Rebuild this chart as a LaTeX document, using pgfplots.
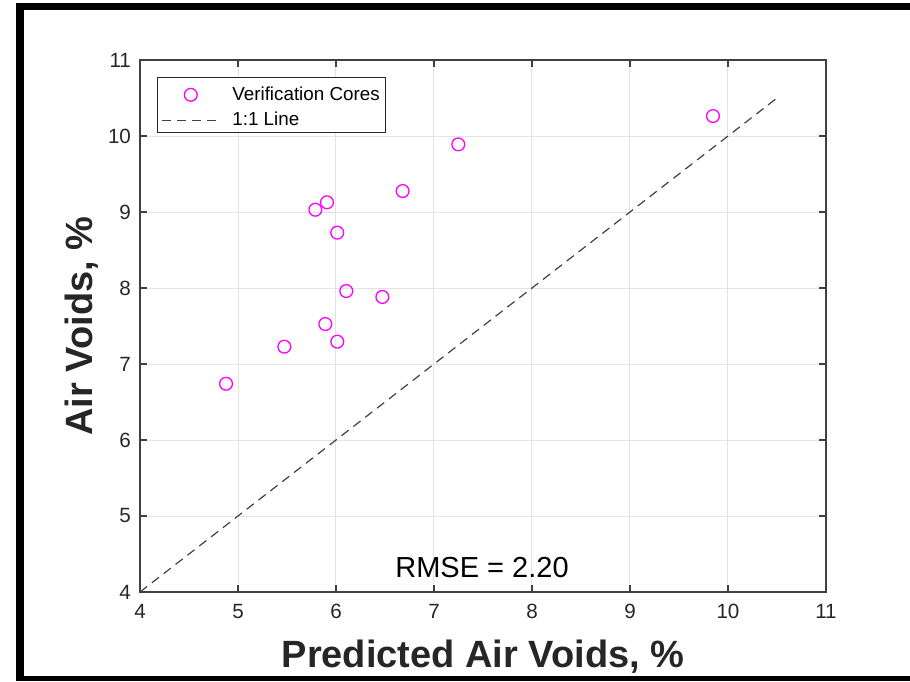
\documentclass[border=0pt]{standalone}
\usepackage{fontspec}
\setmainfont{Liberation Sans}
\usepackage{pgfplots}
\pgfplotsset{compat=1.18}
\definecolor{axisgray}{HTML}{404040}
\definecolor{gridgray}{HTML}{E3E3E3}
\definecolor{txtgray}{HTML}{262626}
\definecolor{magentamk}{HTML}{FF00FF}

\begin{document}
\begin{tikzpicture}
  % page frame (1 px = 0.5 pt)
  \useasboundingbox (0,0) rectangle (455pt,340.5pt);
  \fill[black] (8pt,335.5pt) rectangle (455pt,339pt);
  \fill[black] (8pt,0pt) rectangle (12pt,339pt);
  \fill[black] (8pt,0pt) rectangle (455pt,2.5pt);

  \begin{axis}[
    at={(70pt,44.5pt)}, anchor=south west,
    scale only axis, width=343pt, height=266pt,
    xmin=4, xmax=11, ymin=4, ymax=11,
    xtick={4,...,11}, ytick={4,...,11},
    grid=major, grid style={gridgray, line width=0.5pt},
    axis line style={axisgray, line width=0.6pt},
    tick style={axisgray, line width=0.6pt},
    tick align=inside, major tick length=3.5pt,
    xtick pos=both, ytick pos=both,
    /pgf/number format/assume math mode=true,
    tick label style={font=\fontsize{10.3}{12}\selectfont, text=txtgray},
    xticklabel style={yshift=-2.5pt},
    yticklabel style={xshift=-1pt},
    xlabel={Predicted Air Voids, \%},
    ylabel={Air Voids, \%},
    every axis x label/.style={at={(axis description cs:0.5,-0.141)}, anchor=base,
      font=\fontsize{19}{22}\selectfont\bfseries, text=txtgray},
    every axis y label/.style={at={(axis description cs:-0.069,0.5)}, anchor=base,
      rotate=90, font=\fontsize{19}{22}\selectfont\bfseries, text=txtgray},
    legend cell align=left,
    legend style={at={(0.0243,0.9675)}, anchor=north west,
      draw=txtgray, line width=0.5pt, fill=white,
      inner xsep=2pt, inner ysep=1.8pt,
      font=\fontsize{9.4}{11}\selectfont, text=black,
      nodes={inner sep=1pt, text height=8.3pt, text depth=0.7pt},
      row sep=1.8pt, column sep=5pt},
    legend image code/.code={\draw[mark repeat=2,mark phase=2,yshift=-1.2pt,#1]
      plot coordinates {(0pt,0pt) (14.5pt,0pt) (29pt,0pt)};},
  ]
    \addplot[only marks, mark=o, mark size=3.2pt, magentamk,
      mark options={line width=0.65pt}] coordinates {
      (4.878,6.740) (5.473,7.228) (5.789,9.030) (5.891,7.526)
      (5.908,9.128) (6.013,7.294) (6.013,8.728) (6.105,7.960)
      (6.473,7.882) (6.680,9.276) (7.248,9.890) (9.847,10.263)};
    \addlegendentry{Verification Cores}
    \addplot[axisgray, line width=0.6pt, dash pattern=on 4.5pt off 3pt]
      coordinates {(4,4) (10.5,10.5)};
    \addlegendentry{1:1 Line}
    \node[anchor=base, font=\fontsize{14.5}{17}\selectfont, text=black]
      at (axis cs:7.49,4.197) {RMSE = 2.20};
  \end{axis}
\end{tikzpicture}
\end{document}
